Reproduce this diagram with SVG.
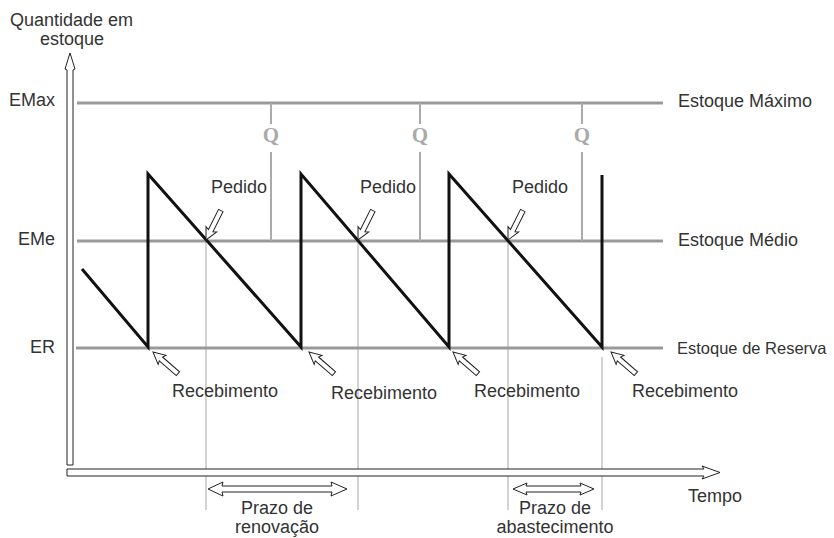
<svg xmlns="http://www.w3.org/2000/svg" width="834" height="538" viewBox="0 0 834 538">
<style>
  .t{font-family:"Liberation Sans",Arial,sans-serif;font-size:18px;fill:#333}
  .lvl{stroke:#999;stroke-width:3;fill:none}
  .qln{stroke:#aaa;stroke-width:2;fill:none}
  .thin{stroke:#c4c4c4;stroke-width:1.5;fill:none}
  .saw{stroke:#111;stroke-width:3;fill:none;stroke-linejoin:miter;stroke-miterlimit:10}
  .hol{fill:#fff;stroke:#222;stroke-width:1;stroke-linejoin:miter}
  .q{font-family:"Liberation Serif","Times New Roman",serif;font-size:21px;font-weight:bold;fill:#aaa}
</style>
<defs>
  <path id="harrow" d="M0,0 L12,-6 L10.5,-2.5 L33,-2.5 L33,2.5 L10.5,2.5 L12,6 Z"/>
</defs>
<rect width="834" height="538" fill="#fff"/>

<g id="guides">
  <line class="thin" x1="206" y1="241" x2="206" y2="510"/>
  <line class="thin" x1="358" y1="241" x2="358" y2="510"/>
  <line class="thin" x1="508" y1="241" x2="508" y2="510"/>
  <line class="thin" x1="602" y1="357" x2="602" y2="510"/>
</g>

<g id="levels">
  <line class="lvl" x1="77" y1="103" x2="663" y2="103"/>
  <line class="lvl" x1="77" y1="241" x2="663" y2="241"/>
  <line class="lvl" x1="76" y1="348" x2="663" y2="348"/>
  <text class="t" x="55" y="106" text-anchor="end">EMax</text>
  <text class="t" x="55" y="245" text-anchor="end">EMe</text>
  <text class="t" x="55" y="353" text-anchor="end">ER</text>
  <text class="t" x="678" y="107">Estoque Máximo</text>
  <text class="t" x="678" y="246">Estoque Médio</text>
  <text class="t" x="677" y="354" style="font-size:16.5px">Estoque de Reserva</text>
</g>

<g id="q-markers">
  <line class="qln" x1="271" y1="103" x2="271" y2="124"/>
  <line class="qln" x1="271" y1="152" x2="271" y2="241"/>
  <text class="q" x="271" y="142" text-anchor="middle">Q</text>
  <line class="qln" x1="420" y1="103" x2="420" y2="124"/>
  <line class="qln" x1="420" y1="152" x2="420" y2="241"/>
  <text class="q" x="420" y="142" text-anchor="middle">Q</text>
  <line class="qln" x1="582" y1="103" x2="582" y2="124"/>
  <line class="qln" x1="582" y1="152" x2="582" y2="241"/>
  <text class="q" x="582" y="142" text-anchor="middle">Q</text>
</g>

<g id="sawtooth">
  <polyline class="saw" points="82,269 148,347 148,174 301,347 301,174 449,347 449,174 602,347 602,175"/>
</g>

<g id="connectors">
  <use href="#harrow" class="hol" transform="translate(206,240) rotate(-63.4)"/>
  <use href="#harrow" class="hol" transform="translate(358,240) rotate(-63.4)"/>
  <use href="#harrow" class="hol" transform="translate(508,240) rotate(-63.4)"/>
  <use href="#harrow" class="hol" transform="translate(153,352) rotate(41)"/>
  <use href="#harrow" class="hol" transform="translate(309,352) rotate(41)"/>
  <use href="#harrow" class="hol" transform="translate(453,352) rotate(41)"/>
  <use href="#harrow" class="hol" transform="translate(611,352) rotate(41)"/>
  <polygon class="hol" points="208,489 223,482 222,486 332,486 331,482 347,489 331,496 332,492 222,492 223,496"/>
  <polygon class="hol" points="513,489 527,483 526,486 581,486 580,483 594,489 580,495 581,492 526,492 527,495"/>
</g>

<g id="labels">
  <text class="t" x="211" y="193">Pedido</text>
  <text class="t" x="360" y="193">Pedido</text>
  <text class="t" x="512" y="193">Pedido</text>
  <text class="t" x="172" y="397">Recebimento</text>
  <text class="t" x="331" y="399">Recebimento</text>
  <text class="t" x="474" y="397">Recebimento</text>
  <text class="t" x="632" y="397">Recebimento</text>
  <text class="t" x="277" y="514" text-anchor="middle">Prazo de</text>
  <text class="t" x="277" y="533" text-anchor="middle">renovação</text>
  <text class="t" x="555" y="514" text-anchor="middle">Prazo de</text>
  <text class="t" x="555" y="533" text-anchor="middle">abastecimento</text>
  <text class="t" x="688" y="502">Tempo</text>
</g>

<g id="axes">
  <polygon class="hol" points="67,465 67,70 65,69 70,53 75,69 73,70 73,465"/>
  <polygon class="hol" points="67,469 704,469 702,466 720,472.5 702,479 704,476 67,476"/>
  <text class="t" x="10" y="26">Quantidade em</text>
  <text class="t" x="72" y="45" text-anchor="middle">estoque</text>
</g>
</svg>
